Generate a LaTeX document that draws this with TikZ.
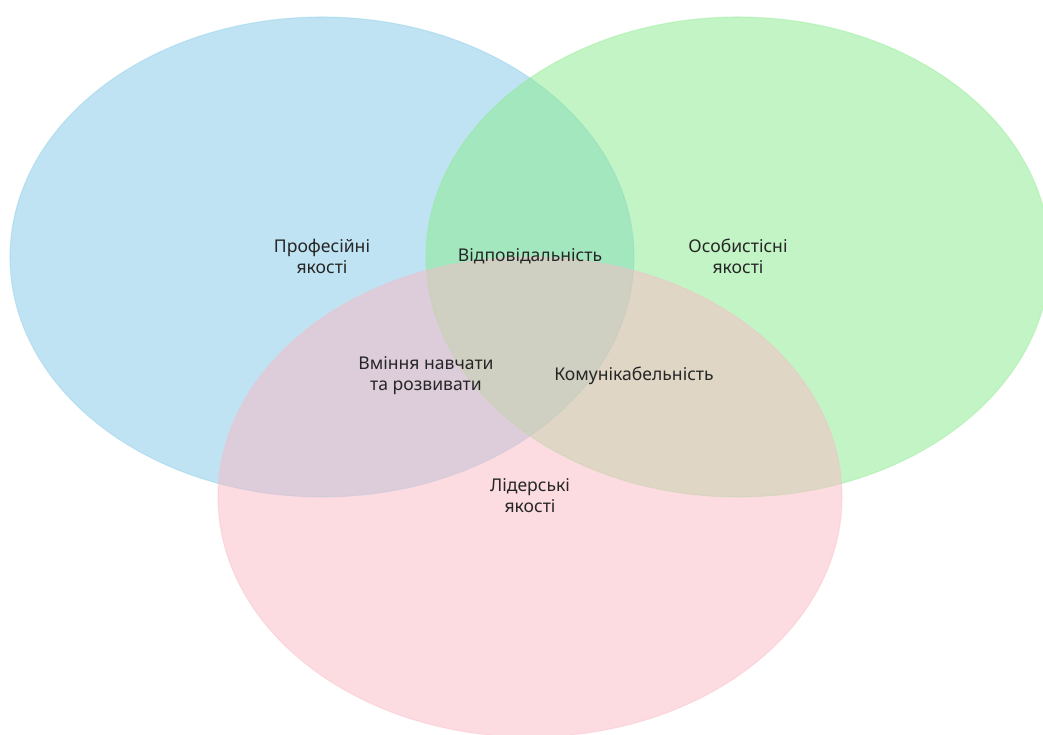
\documentclass[tikz,border=0pt]{standalone}
\usepackage{fontspec}
\setmainfont{Noto Sans}
\usepackage{tikz}
\usetikzlibrary{positioning}
\definecolor{profblue}{HTML}{81C9E7}
\definecolor{persgreen}{HTML}{89EB8D}
\definecolor{leadpink}{HTML}{FBB9C5}
\tikzset{venn/.style = {fill opacity = 0.5, draw opacity = 0.35, line width = 0.6pt}}
\tikzset{lbl/.style = {align = center, font = \fontsize{10}{11.9}\selectfont, text = black!85, inner sep = 0}}

\begin{document}
\begin{tikzpicture}[x = 0.02cm, y = 0.02cm]
    \clip (0, 0) rectangle (1043, 734);
    \fill [white] (0, 0) rectangle (1043, 734);

    \draw [venn, fill = profblue, draw = profblue] (322, 477) ellipse [x radius = 312, y radius = 240];
    \draw [venn, fill = persgreen, draw = persgreen] (738, 477) ellipse [x radius = 312, y radius = 240];
    \draw [venn, fill = leadpink, draw = leadpink] (530, 237) ellipse [x radius = 312, y radius = 240];

    \node [lbl] (prof) at (322, 478) {Професійні\\якості};
    \node [lbl] (resp) at (530, 478) {Відповідальність};
    \node [lbl] (pers) at (738, 478) {Особистісні\\якості};
    \node [lbl] (teach) at (426, 358) {Вміння навчати\\та розвивати};
    \node [lbl] (comm) at (634, 358) {Комунікабельність};
    \node [lbl] (lead) at (530, 238) {Лідерські\\якості};
  \end{tikzpicture}
\end{document}
